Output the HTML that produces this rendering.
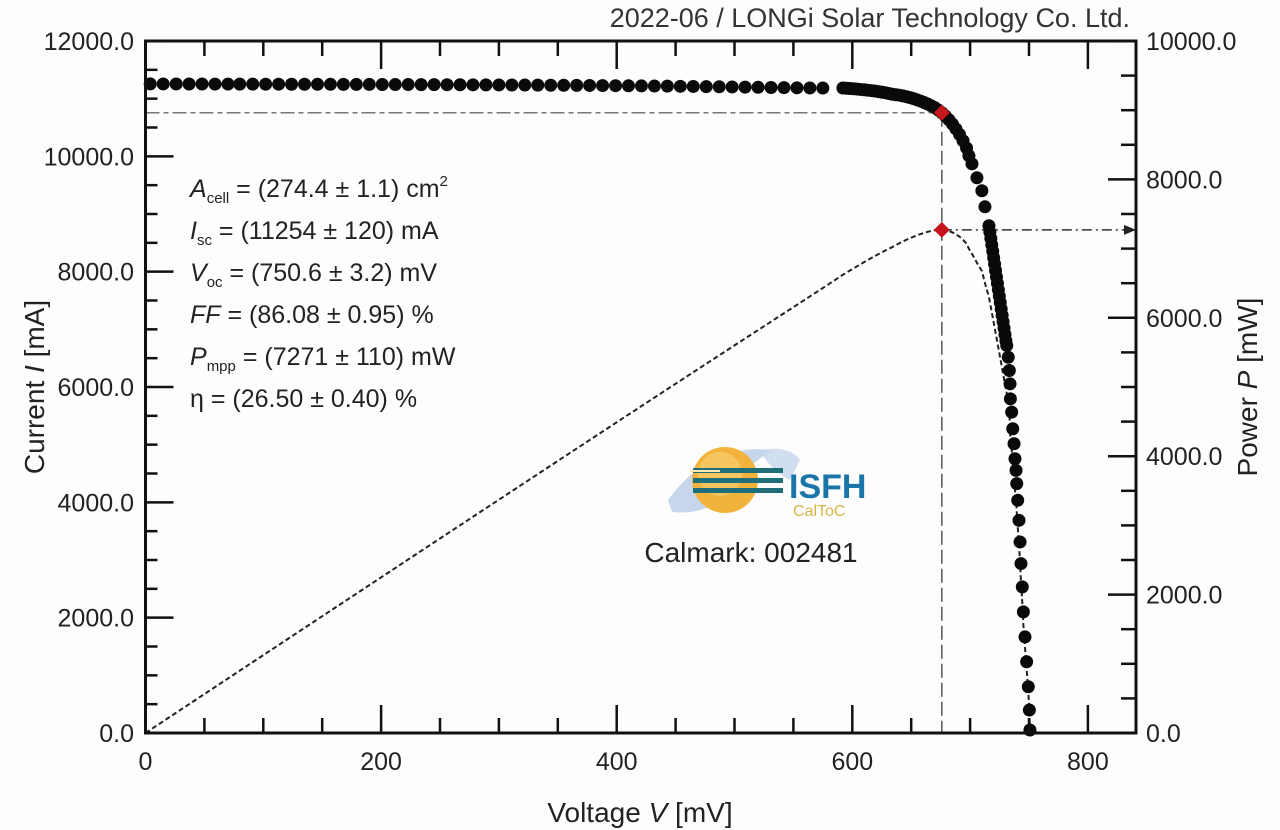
<!DOCTYPE html>
<html><head><meta charset="utf-8">
<style>
html,body{margin:0;padding:0;background:#fdfdfd;}
svg{display:block;font-family:"Liberation Sans",sans-serif;}
</style></head>
<body>
<svg id="chart" width="1280" height="830" viewBox="0 0 1280 830" xmlns="http://www.w3.org/2000/svg">
<rect x="0" y="0" width="1280" height="830" fill="#fdfdfd"/>
<text x="1130" y="27" text-anchor="end" font-size="27" fill="#333">2022-06 / LONGi Solar Technology Co. Ltd.</text>
<g id="marks"></g>
<g id="axes"></g>
<g font-size="25" fill="#222">
<text x="190" y="197"><tspan font-style="italic">A</tspan><tspan font-size="15" dy="6">cell</tspan><tspan dy="-6"> = (274.4 ± 1.1) cm</tspan><tspan font-size="15" dy="-11">2</tspan></text>
<text x="190" y="239"><tspan font-style="italic">I</tspan><tspan font-size="15" dy="6">sc</tspan><tspan dy="-6"> = (11254 ± 120) mA</tspan></text>
<text x="190" y="281"><tspan font-style="italic">V</tspan><tspan font-size="15" dy="6">oc</tspan><tspan dy="-6"> = (750.6 ± 3.2) mV</tspan></text>
<text x="190" y="323"><tspan font-style="italic">FF</tspan> = (86.08 ± 0.95) %</text>
<text x="190" y="365"><tspan font-style="italic">P</tspan><tspan font-size="15" dy="6">mpp</tspan><tspan dy="-6"> = (7271 ± 110) mW</tspan></text>
<text x="190" y="407">η = (26.50 ± 0.40) %</text>
</g>
<g>
<path d="M668 500 Q690 470 720 455 Q760 445 770 452 Q740 470 720 500 Q700 515 672 512 Z" fill="#b8cde6" opacity="0.8"/>
<path d="M760 450 Q790 445 800 460 L790 480 Q770 470 760 450Z" fill="#c5d6ec" opacity="0.8"/>
<circle cx="725" cy="480" r="33" fill="#f2b33d"/>
<circle cx="720" cy="474" r="22" fill="#f7cf6e" opacity="0.7"/>
<rect x="693" y="468" width="90" height="5" fill="#1e6f7a"/>
<rect x="693" y="478" width="90" height="5" fill="#1e6f7a"/>
<rect x="693" y="488" width="90" height="5" fill="#1e6f7a"/>
<rect x="690" y="470" width="30" height="2" fill="#fde6b0"/>
<text x="789" y="498" font-size="34" font-weight="bold" fill="#1c75a8">ISFH</text>
<text x="793" y="516" font-size="16" fill="#d8b44a">CalToC</text>
<text x="751" y="562" text-anchor="middle" font-size="28" fill="#222">Calmark: 002481</text>
</g>
</svg>
<script>
// Measured I-V data (voltage in mV, current in mA)
const voltage = [4,15,26,37,48,59,70,80,91,102,113,124,135,146,157,168,179,190,201,212,223,234,245,256,267,278,289,300,311,322,333,344,355,366,377,388,399,410,421,432,443,454,465,476,487,498,509,520,531,542,553,564,575,
592,595,598,601,604,607,610,613,616,619,622,625,628,631,634,637,640,643,646,649,652,655,658,661,664,667,670,673,676,679,682,685,688,691,694,697,699,701.6,705.8,710.0,712.6,716.0,
716.8,717.6,718.4,719.2,720.0,720.8,721.6,722.4,723.2,724.0,724.8,725.6,726.4,727.2,728.0,728.8,729.6,730.4,
731.1,732.4,733.3,733.9,734.2,735.3,736.2,737.3,738.1,739.0,739.6,740.4,741.5,742.4,743.2,744.3,745.2,746.6,748.0,749.4,750.3,750.8];
const current = [11256,11255,11255,11254,11254,11253,11253,11252,11252,11251,11251,11250,11250,11249,11249,11248,11247,11247,11246,11245,11245,11244,11243,11242,11241,11240,11239,11238,11237,11236,11235,11233,11232,11230,11229,11227,11225,11223,11221,11219,11217,11214,11212,11209,11206,11203,11200,11197,11194,11191,11188,11186,11184,
11185,11180,11176,11171,11166,11160,11154,11147,11140,11132,11123,11113,11102,11090,11076,11068,11060,11048,11034,11018,11000,10980,10958,10934,10907,10877,10845,10803,10756,10700,10635,10560,10475,10380,10270,10145,10010,9870,9628,9403,9125,8797,
8686,8575,8464,8353,8242,8131,8020,7909,7798,7687,7576,7465,7354,7243,7132,7021,6910,6800,
6719,6516,6286,6055,5795,5564,5275,5016,4756,4554,4324,4035,3688,3313,2938,2534,2100,1667,1235,802,398,52];
const mppVoltage = 676;
const mppCurrent = 10756;
const mppPower = 7271;
const xTicks = [0,200,400,600,800];
const yLeftTicks = [0,2000,4000,6000,8000,10000,12000];
const yRightTicks = [0,2000,4000,6000,8000,10000];

const NS = "http://www.w3.org/2000/svg";
const X0 = 145.5, XS = 1.178, Y0 = 733, XR = 1136, YT = 41;
const x = v => X0 + v * XS;
const yI = i => Y0 - i * (Y0 - YT) / 12000;
const yP = p => Y0 - p * (Y0 - YT) / 10000;
function mk(tag, attrs, parent) {
  const e = document.createElementNS(NS, tag);
  for (const k in attrs) e.setAttribute(k, attrs[k]);
  parent.appendChild(e);
  return e;
}
const marks = document.getElementById('marks');
const axes = document.getElementById('axes');

let l = mk('line', {x1: X0, y1: yI(mppCurrent), x2: x(mppVoltage), y2: yI(mppCurrent), stroke: '#777', 'stroke-width': 1.5, 'stroke-dasharray': '14 4 5 4'}, marks);


l = mk('line', {x1: x(mppVoltage), y1: yI(mppCurrent), x2: x(mppVoltage), y2: Y0, stroke: '#555', 'stroke-width': 1.5, 'stroke-dasharray': '14 5'}, marks);


l = mk('line', {x1: x(mppVoltage), y1: yP(mppPower), x2: XR - 2, y2: yP(mppPower), stroke: '#333', 'stroke-width': 1.5, 'stroke-dasharray': '10 4 2 4'}, marks);


l = mk('path', {d: `M${XR-12} ${yP(mppPower)-5} L${XR} ${yP(mppPower)} L${XR-12} ${yP(mppPower)+5} Z`, fill: '#222'}, marks);



let d = `M${x(0)} ${yP(0)}`;
for (let k = 0; k < voltage.length; k++) d += ` L${x(voltage[k]).toFixed(2)} ${yP(voltage[k] * current[k] / 1000).toFixed(2)}`;
const pc = mk('path', {d: d, fill: 'none', stroke: '#222', 'stroke-width': 2, 'stroke-dasharray': '5 3'}, marks);



for (let k = 0; k < voltage.length; k++) {
  const c = mk('circle', {cx: x(voltage[k]).toFixed(2), cy: yI(current[k]).toFixed(2), r: 6.5, fill: '#0a0a0a'}, marks);
  
  
}
function diamond(cx, cy, name) {
  const e = mk('path', {d: `M${cx} ${cy-8} L${cx+8} ${cy} L${cx} ${cy+8} L${cx-8} ${cy} Z`, fill: '#c4161c'}, marks);
  
  
}
diamond(x(mppVoltage), yI(mppCurrent), 'mpp-current-marker');
diamond(x(mppVoltage), yP(mppPower), 'mpp-power-marker');

const fr = mk('rect', {x: X0, y: YT, width: XR - X0, height: Y0 - YT, fill: 'none', stroke: '#111', 'stroke-width': 3}, axes);


for (let v = 0; v <= 840; v += 50) {
  const major = v % 200 === 0;
  const len = major ? 28 : 15;
  let t = mk('line', {x1: x(v), y1: Y0, x2: x(v), y2: Y0 - len, stroke: '#111', 'stroke-width': 2.5}, axes);
  
  
  t = mk('line', {x1: x(v), y1: YT, x2: x(v), y2: YT + len, stroke: '#111', 'stroke-width': 2.5}, axes);
  
  
}
xTicks.forEach(v => {
  const t = mk('text', {x: x(v), y: 770, 'text-anchor': 'middle', 'font-size': 25, fill: '#222'}, axes);
  t.textContent = String(v);
  
  
});
for (let i = 0; i <= 12000; i += 500) {
  const len = i % 2000 === 0 ? 28 : 12;
  const t = mk('line', {x1: X0, y1: yI(i), x2: X0 + len, y2: yI(i), stroke: '#111', 'stroke-width': 2.5}, axes);
  
  
}
yLeftTicks.forEach(v => {
  const t = mk('text', {x: 134, y: yI(v) + 9, 'text-anchor': 'end', 'font-size': 25, fill: '#222'}, axes);
  t.textContent = v.toFixed(1);
  
  
});
for (let p = 0; p <= 10000; p += 500) {
  const len = p % 2000 === 0 ? 28 : 15;
  const t = mk('line', {x1: XR, y1: yP(p), x2: XR - len, y2: yP(p), stroke: '#111', 'stroke-width': 2.5}, axes);
  
  
}
yRightTicks.forEach(v => {
  const t = mk('text', {x: 1146, y: yP(v) + 9, 'text-anchor': 'start', 'font-size': 25, fill: '#222'}, axes);
  t.textContent = v.toFixed(1);
  
  
});
let at = mk('text', {x: 640, y: 822, 'text-anchor': 'middle', 'font-size': 28, fill: '#222'}, axes);
at.innerHTML = 'Voltage <tspan font-style="italic">V</tspan> [mV]';


at = mk('text', {x: 0, y: 0, 'text-anchor': 'middle', 'font-size': 28, fill: '#222', transform: 'translate(44,387) rotate(-90)'}, axes);
at.innerHTML = 'Current <tspan font-style="italic">I</tspan> [mA]';


at = mk('text', {x: 0, y: 0, 'text-anchor': 'middle', 'font-size': 28, fill: '#222', transform: 'translate(1257,387) rotate(-90)'}, axes);
at.innerHTML = 'Power <tspan font-style="italic">P</tspan> [mW]';


</script>
</body></html>
